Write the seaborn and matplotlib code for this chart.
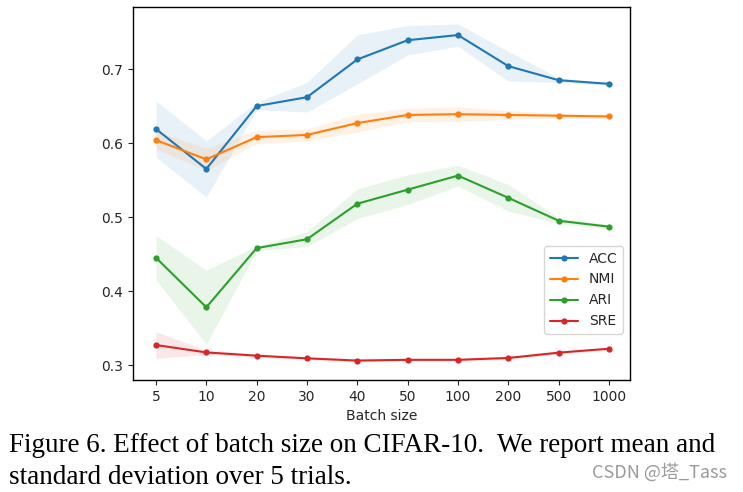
import numpy as np
import pandas as pd
import matplotlib
matplotlib.use("Agg")
import matplotlib.pyplot as plt
import seaborn as sns

batch_sizes = ["5", "10", "20", "30", "40", "50", "100", "200", "500", "1000"]
acc_mean = [0.619, 0.565, 0.650, 0.662, 0.713, 0.739, 0.746, 0.704, 0.685, 0.680]
acc_std = [0.038, 0.038, 0.005, 0.020, 0.033, 0.020, 0.015, 0.020, 0.003, 0.002]
nmi_mean = [0.604, 0.578, 0.608, 0.611, 0.627, 0.638, 0.639, 0.638, 0.637, 0.636]
nmi_std = [0.012, 0.015, 0.009, 0.008, 0.012, 0.009, 0.010, 0.006, 0.003, 0.003]
ari_mean = [0.445, 0.378, 0.458, 0.470, 0.518, 0.537, 0.556, 0.526, 0.495, 0.487]
ari_std = [0.030, 0.050, 0.003, 0.010, 0.020, 0.020, 0.014, 0.018, 0.004, 0.003]
sre_mean = [0.327, 0.317, 0.3126, 0.309, 0.306, 0.307, 0.307, 0.3095, 0.3167, 0.322]
sre_std = [0.018, 0.003, 0.002, 0.002, 0.002, 0.002, 0.002, 0.002, 0.002, 0.002]

metrics = ["ACC", "NMI", "ARI", "SRE"]
means = [acc_mean, nmi_mean, ari_mean, sre_mean]
stds = [acc_std, nmi_std, ari_std, sre_std]

sns.set_style("ticks")
plt.rcParams["font.family"] = ["DejaVu Sans"]
colors = sns.color_palette("tab10", 4)

rows = []
for m, mu, sd in zip(metrics, means, stds):
    for i, (b, v, s) in enumerate(zip(batch_sizes, mu, sd)):
        rows.append({"metric": m, "pos": i, "batch": b, "mean": v, "std": s})
df = pd.DataFrame(rows)

fig = plt.figure(figsize=(7.43, 4.92), dpi=100)
ax = fig.add_axes([0.179, 0.2276, 0.669, 0.758])

sns.lineplot(data=df, x="pos", y="mean", hue="metric", hue_order=metrics,
             palette=colors, marker="o", markersize=4.5, markeredgewidth=0,
             linewidth=1.5, ax=ax)
for m, c in zip(metrics, colors):
    d = df[df.metric == m]
    ax.fill_between(d["pos"], d["mean"] - d["std"], d["mean"] + d["std"],
                    color=c, alpha=0.1, linewidth=0)

ax.set_xticks(range(len(batch_sizes)))
ax.set_xticklabels(batch_sizes)
ax.set_xlim(-0.457, 9.42)
ax.set_ylim(0.2797, 0.7838)
ax.set_yticks([0.3, 0.4, 0.5, 0.6, 0.7])
ax.set_xlabel("Batch size", fontsize=10)
ax.set_ylabel("")
ax.tick_params(labelsize=10)
for sp in ax.spines.values():
    sp.set_visible(True)
    sp.set_color("black")
    sp.set_linewidth(1.0)

leg = ax.legend(loc="lower right", bbox_to_anchor=(1.0, 0.105), fontsize=10,
                frameon=True)
leg.get_frame().set_edgecolor("#cccccc")

fig.text(9 / 743, 1 - 445 / 492,
         "Figure 6. Effect of batch size on CIFAR-10.  We report mean and",
         family=["Liberation Serif"], fontsize=19.5, va="center", ha="left",
         color="black")
fig.text(9 / 743, 1 - 477 / 492, "standard deviation over 5 trials.",
         family=["Liberation Serif"], fontsize=19.5, va="center", ha="left",
         color="black")
fig.text(727 / 743, 1 - 472 / 492, "CSDN @塔_Tass",
         family=["Noto Sans CJK SC", "DejaVu Sans"], fontsize=13, va="center",
         ha="right", color="#9a9a9a")

fig.savefig("out.png", dpi=100)
